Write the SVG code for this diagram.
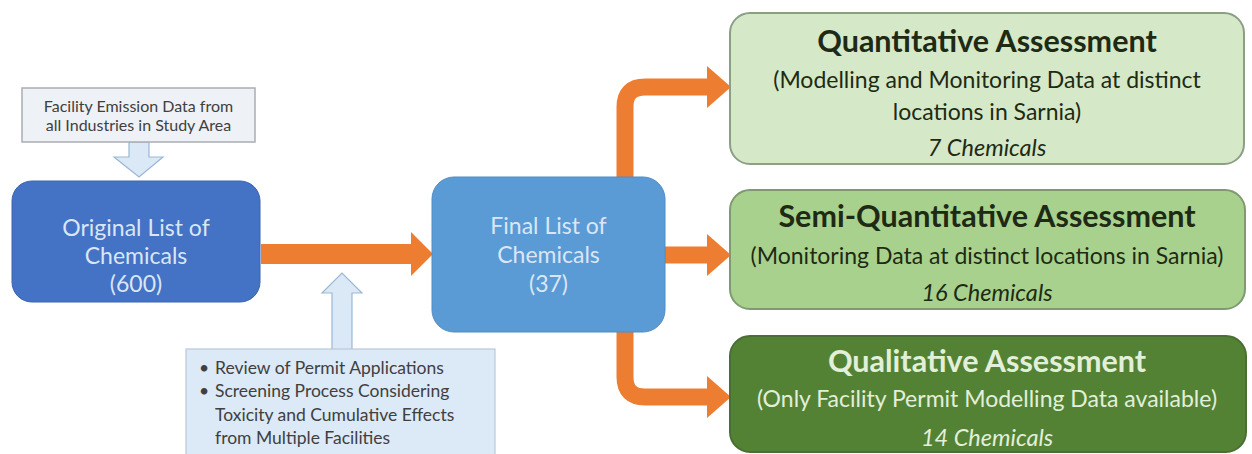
<svg xmlns="http://www.w3.org/2000/svg" width="1252" height="454" viewBox="0 0 1252 454">
<defs>
<style>
text{font-family:Lato,"Liberation Sans",sans-serif;text-anchor:middle}
.small{font-size:16px;fill:#404040}
.bul{font-size:17.5px;fill:#404040;text-anchor:start}
.blue{font-size:23px;fill:#dae6f5}
.title{font-size:30.5px;font-weight:bold}
.sub{font-size:23px}
.cnt{font-size:23.5px;font-style:italic}
.dark{fill:#1e2a14}
.light{fill:#e2efd9}
.conn{fill:none;stroke:#ed7d31;stroke-width:17}
.hint{fill:#dbe9f7;stroke:#9bb7d6;stroke-width:1.2}
</style>
<marker id="head" markerUnits="userSpaceOnUse" markerWidth="24" markerHeight="42" viewBox="0 0 24 42" refX="0" refY="21" orient="auto">
<path d="M0,0 L24,21 L0,42 Z" fill="#ed7d31"/>
</marker>
<marker id="headBig" markerUnits="userSpaceOnUse" markerWidth="22" markerHeight="44" viewBox="0 0 22 44" refX="0" refY="22" orient="auto">
<path d="M0,0 L22,22 L0,44 Z" fill="#ed7d31"/>
</marker>
</defs>
<rect width="1252" height="454" fill="#ffffff"/>

<g id="connectors">
<path class="conn" style="stroke-width:20" d="M261,254 H411" marker-end="url(#headBig)"/>
<path class="conn" d="M625,178 V107 Q625,87 645,87 H707" marker-end="url(#head)"/>
<path class="conn" d="M665,255 H707" marker-end="url(#head)"/>
<path class="conn" d="M625,331 V377 Q625,397 645,397 H707" marker-end="url(#head)"/>
<polygon class="hint" points="129,142 149,142 149,157 163,157 139,177 114,157 129,157"/>
<polygon class="hint" points="332,350 332,293 322,293 342,273 362,293 352,293 352,350"/>
</g>

<g id="facility">
<rect x="22" y="88" width="233" height="54" fill="#eef1f6" stroke="#a9adb3" stroke-width="1.5"/>
<text class="small" x="138.5" y="112">Facility Emission Data from</text>
<text class="small" x="138.5" y="131">all Industries in Study Area</text>
</g>

<g id="original">
<rect x="12" y="181" width="248" height="121" rx="20" fill="#4472c4" stroke="#3c64ae" stroke-width="1"/>
<text class="blue" x="136" y="236">Original List of</text>
<text class="blue" x="136" y="264">Chemicals</text>
<text class="blue" x="136" y="292">(600)</text>
</g>

<g id="review">
<rect x="186" y="349" width="309" height="115" fill="#dce9f6" stroke="#b9c9da" stroke-width="1.2"/>
<text class="bul" x="199" y="374">•</text>
<text class="bul" x="215" y="374">Review of Permit Applications</text>
<text class="bul" x="199" y="397">•</text>
<text class="bul" x="215" y="397">Screening Process Considering</text>
<text class="bul" x="215" y="421">Toxicity and Cumulative Effects</text>
<text class="bul" x="215" y="444">from Multiple Facilities</text>
</g>

<g id="final">
<rect x="432" y="177" width="233" height="155" rx="22" fill="#5b9bd5" stroke="#4f8cc4" stroke-width="1"/>
<text class="blue" x="548.5" y="234">Final List of</text>
<text class="blue" x="548.5" y="263">Chemicals</text>
<text class="blue" x="548.5" y="292">(37)</text>
</g>

<g id="quantitative">
<rect x="730" y="13" width="514" height="151" rx="20" fill="#d5e8c8" stroke="#8a9f86" stroke-width="2"/>
<text class="title dark" x="987" y="52">Quantitative Assessment</text>
<text class="sub dark" x="987" y="88">(Modelling and Monitoring Data at distinct</text>
<text class="sub dark" x="987" y="120">locations in Sarnia)</text>
<text class="cnt dark" x="987" y="156">7 Chemicals</text>
</g>

<g id="semi">
<rect x="730" y="190" width="515" height="119" rx="20" fill="#a9d18e" stroke="#7f9a70" stroke-width="2"/>
<text class="title dark" x="987" y="227">Semi-Quantitative Assessment</text>
<text class="sub dark" x="987" y="264">(Monitoring Data at distinct locations in Sarnia)</text>
<text class="cnt dark" x="987" y="301">16 Chemicals</text>
</g>

<g id="qualitative">
<rect x="730" y="336" width="516" height="116" rx="20" fill="#548235" stroke="#4a6e35" stroke-width="2"/>
<text class="title light" x="987" y="372">Qualitative Assessment</text>
<text class="sub light" x="987" y="407">(Only Facility Permit Modelling Data available)</text>
<text class="cnt light" x="987" y="446">14 Chemicals</text>
</g>
</svg>
